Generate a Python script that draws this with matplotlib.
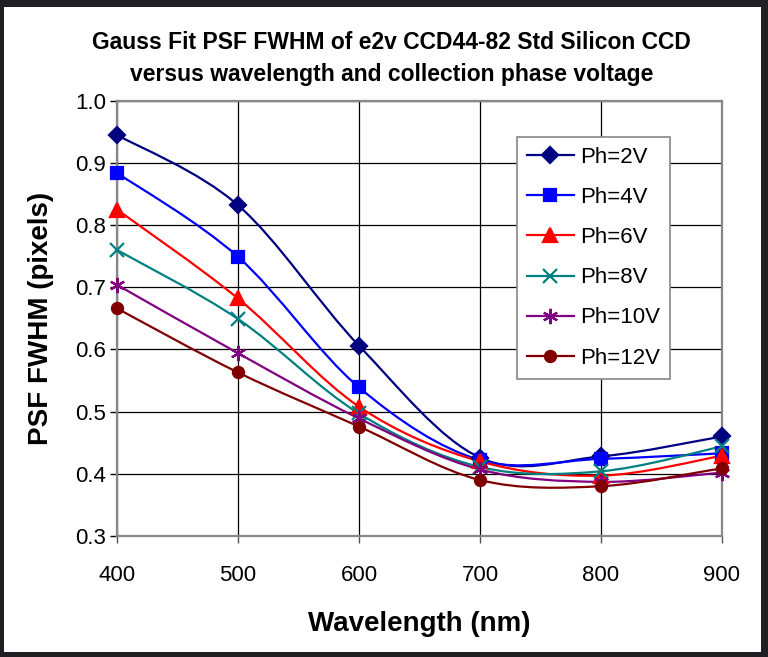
import matplotlib
matplotlib.use("Agg")
import matplotlib.pyplot as plt
from matplotlib.path import Path
from matplotlib.patches import PathPatch, Rectangle
from matplotlib.lines import Line2D

plt.rcParams['font.family'] = ['Liberation Sans', 'DejaVu Sans']

# wavelength (nm)
wavelength = [400, 500, 600, 700, 800, 900]

# PSF FWHM (pixels) for each collection phase voltage
ph_2v = [0.945, 0.832, 0.606, 0.426, 0.428, 0.460]
ph_4v = [0.884, 0.749, 0.539, 0.422, 0.424, 0.433]
ph_6v = [0.825, 0.682, 0.508, 0.420, 0.397, 0.429]
ph_8v = [0.760, 0.649, 0.497, 0.411, 0.404, 0.444]
ph_10v = [0.704, 0.594, 0.489, 0.407, 0.387, 0.402]
ph_12v = [0.666, 0.563, 0.476, 0.390, 0.380, 0.409]

labels = ['Ph=2V', 'Ph=4V', 'Ph=6V', 'Ph=8V', 'Ph=10V', 'Ph=12V']
colors = ['#000080', '#0000ff', '#ff0000', '#008080', '#800080', '#800000']
markers = ['D', 's', '^', 'x', (6, 2, 0), 'o']
msizes = [8, 8, 10, 10, 11, 8]

series = [ph_2v, ph_4v, ph_6v, ph_8v, ph_10v, ph_12v]


def smooth_path(xs, ys):
    # Excel style smoothed line: cubic bezier through the points
    pts = list(zip(xs, ys))
    n = len(pts)
    verts = [pts[0]]
    codes = [Path.MOVETO]
    for i in range(n - 1):
        p0 = pts[max(i - 1, 0)]
        p1 = pts[i]
        p2 = pts[i + 1]
        p3 = pts[min(i + 2, n - 1)]
        c1 = (p1[0] + (p2[0] - p0[0]) / 6, p1[1] + (p2[1] - p0[1]) / 6)
        c2 = (p2[0] - (p3[0] - p1[0]) / 6, p2[1] - (p3[1] - p1[1]) / 6)
        verts += [c1, c2, p2]
        codes += [Path.CURVE4] * 3
    return Path(verts, codes)


fig = plt.figure(figsize=(7.68, 6.57), dpi=100)
fig.patch.set_facecolor('#1f1f24')
fig.patches.append(Rectangle((4 / 768, 5 / 657), 757 / 768, 645 / 657,
                             transform=fig.transFigure, facecolor='white',
                             edgecolor='none', zorder=-10))

ax = fig.add_axes([0.1523, 0.1842, 0.7878, 0.6625])
ax.set_zorder(1)

for ys, c, m, ms, lab in zip(series, colors, markers, msizes, labels):
    ax.add_patch(PathPatch(smooth_path(wavelength, ys), fill=False,
                           edgecolor=c, lw=1.6, zorder=3))
    ax.plot(wavelength, ys, linestyle='none', marker=m, ms=ms, color=c,
            mec=c, mew=1.6, zorder=4, clip_on=False)

ax.set_xlim(400, 900)
ax.set_ylim(0.3, 1.0)
ax.set_xticks([400, 500, 600, 700, 800, 900])
ax.set_yticks([0.3, 0.4, 0.5, 0.6, 0.7, 0.8, 0.9, 1.0])
ax.set_yticklabels(['0.3', '0.4', '0.5', '0.6', '0.7', '0.8', '0.9', '1.0'])
ax.grid(True, color='black', lw=0.9)
ax.set_axisbelow(True)
for s in ax.spines.values():
    s.set_color('#888888')
    s.set_linewidth(1.6)
ax.tick_params(axis='both', direction='out', length=5, width=1,
               color='black', labelsize=16)
ax.tick_params(axis='x', pad=16, color='#555555')
ax.tick_params(axis='y', pad=3)

ax.set_xlabel('Wavelength (nm)', fontsize=20, fontweight='bold', labelpad=18)
ax.set_ylabel('PSF FWHM (pixels)', fontsize=20, fontweight='bold', labelpad=15)

fig.text(0.51, 0.911, 'Gauss Fit PSF FWHM of e2v CCD44-82 Std Silicon CCD\n'
         'versus wavelength and collection phase voltage',
         ha='center', va='center', fontsize=16.5, fontweight='bold',
         linespacing=1.45)

handles = [Line2D([], [], color=c, marker=m, ms=ms, mec=c, mew=1.6, lw=1.6)
           for c, m, ms in zip(colors, markers, msizes)]
leg = ax.legend(handles, labels, loc='upper left', bbox_to_anchor=(0.661, 0.9166),
                borderaxespad=0, fontsize=16, frameon=True, fancybox=False,
                edgecolor='#888888', framealpha=1, handlelength=2.1,
                labelspacing=0.86, borderpad=0.45, handletextpad=0.3)
leg.get_frame().set_linewidth(1.2)

fig.savefig('out.png', dpi=100, facecolor=fig.get_facecolor())
